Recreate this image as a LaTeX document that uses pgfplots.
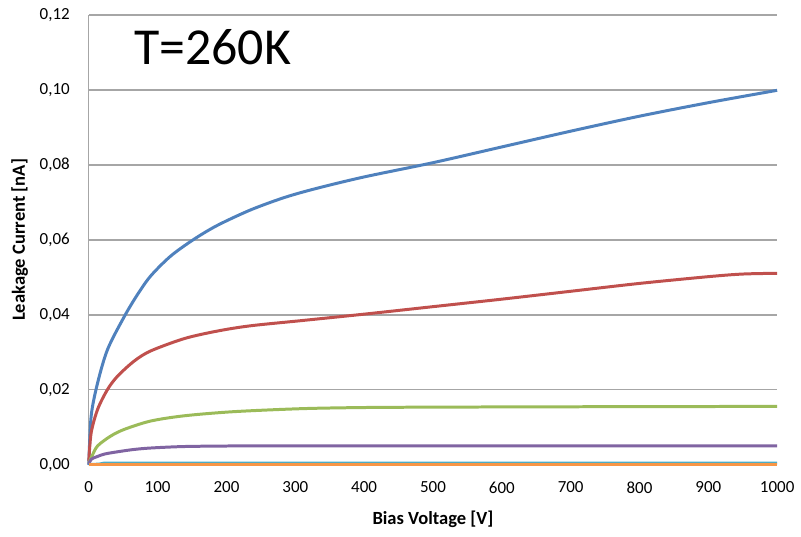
\documentclass[border=0pt]{standalone}
\usepackage{fontspec}
\setmainfont{Carlito}
\newfontfamily\labelfont{Carlito}[UprightFont=*-Bold]
\usepackage{pgfplots}
\pgfplotsset{compat=1.18}

\definecolor{sBlue}{HTML}{4F81BD}
\definecolor{sRed}{HTML}{C0504D}
\definecolor{sGreen}{HTML}{9BBB59}
\definecolor{sPurple}{HTML}{8064A2}
\definecolor{sCyan}{HTML}{4BACC6}
\definecolor{sOrange}{HTML}{F79646}
\definecolor{gridgray}{HTML}{A6A6A6}

\begin{document}
\begin{tikzpicture}
\begin{axis}[
  scale only axis,
  width=345pt, height=225.5pt,
  xmin=0, xmax=1000, ymin=0, ymax=0.12,
  xtick={0,100,...,1000},
  ytick={0,0.02,...,0.12},
  axis x line*=bottom, axis y line*=left,
  x axis line style={draw=none},
  y axis line style={draw=gridgray, line width=0.6pt},
  major tick length=0pt,
  ymajorgrids,
  grid style={gridgray, line width=0.6pt},
  every tick label/.style={font=\fontsize{8.5}{10}\selectfont},
  /pgf/number format/assume math mode=true,
  xticklabel style={/pgf/number format/.cd, set thousands separator={}},
  yticklabel style={/pgf/number format/.cd, fixed, fixed zerofill, precision=2, use comma},
  scaled y ticks=false,
  yticklabel shift=6pt,
  xticklabel shift=5pt,
  xlabel={Bias Voltage [V]},
  ylabel={Leakage Current [nA]},
  label style={font=\labelfont\fontsize{9.3}{11}\selectfont},
  xlabel style={yshift=-2pt},
  ylabel style={yshift=-1pt},
  clip=false,
  every axis plot/.append style={line width=1.5pt, no marks, line join=round},
]
\addplot[sBlue, smooth] coordinates {
(0,0) (3.5,0.0131) (13,0.0220) (27.5,0.0309) (52,0.0397) (71,0.0455)
(90,0.0504) (119,0.0557) (153,0.0602) (187,0.0639) (235,0.0680) (284,0.0713)
(330,0.0737) (400,0.0768) (500,0.0806) (600,0.0848) (700,0.0890) (800,0.0930)
(900,0.0966) (1000,0.0999)};
\addplot[sRed, smooth] coordinates {
(0,0.001) (3.5,0.0086) (13,0.0149) (27.5,0.0202) (42,0.0237) (66,0.0277)
(90,0.0304) (139,0.0337) (187,0.0357) (235,0.0371) (310,0.0385) (400,0.0402)
(500,0.0422) (600,0.0442) (700,0.0463) (800,0.0484) (900,0.0502) (950,0.0509)
(1000,0.0511)};
\addplot[sGreen, smooth] coordinates {
(0,0.0005) (5,0.0025) (13,0.0051) (32,0.0077) (52,0.0095) (90,0.0117)
(139,0.0131) (211,0.0142) (310,0.0150) (400,0.0153) (500,0.0154)
(700,0.0155) (1000,0.0156)};
\addplot[sPurple, smooth] coordinates {
(0,0.0002) (3.5,0.0015) (12,0.0022) (23,0.0029) (42,0.0035) (65,0.0041) (90,0.0045)
(139,0.0049) (211,0.00505) (300,0.0051) (600,0.0051) (1000,0.0051)};
\addplot[sCyan] coordinates {(0,0.0001) (15,0.0002) (23,0.0005) (1000,0.0005)};
\addplot[sOrange] coordinates {(0,0) (1000,0)};
\node[font=\fontsize{26}{30}\selectfont] at (axis cs:180,0.1115) {T=260K};
\end{axis}
\path (current axis.south west) ++(-44.5pt,-36pt) coordinate (bbA);
\path (current axis.north east) ++(11pt,7.5pt) coordinate (bbB);
\useasboundingbox (bbA) rectangle (bbB);
\end{tikzpicture}
\end{document}
